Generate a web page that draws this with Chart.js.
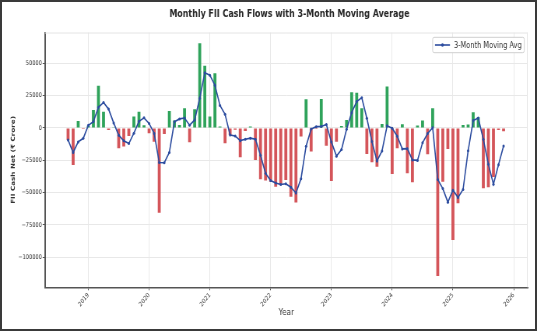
<!DOCTYPE html>
<html>
<head>
<meta charset="utf-8">
<script src="https://cdn.jsdelivr.net/npm/chart.js@4.4.1/dist/chart.umd.min.js"></script>
<style>
html, body { margin: 0; padding: 0; background: #fff; overflow: hidden; }
#wrap { position: relative; width: 537px; height: 331px; overflow: hidden; background: #fff; }
#chart { position: absolute; left: 0; top: 0; transform: scaleX(0.778261); transform-origin: 0 0; }
#frame { position: absolute; left: 0; top: 0; width: 537px; height: 331px; box-sizing: border-box; border: 2px solid #3a3a3a; pointer-events: none; }
</style>
</head>
<body>
<div id="wrap">
  <canvas id="chart" width="690" height="331"></canvas>
  <div id="frame"></div>
</div>
<script>
// monthly FII net cash flow, Sep 2018 - Nov 2025 (Rs crore)
const months = [
  '2018-09', '2018-10', '2018-11', '2018-12',
  '2019-01', '2019-02', '2019-03', '2019-04', '2019-05', '2019-06', '2019-07', '2019-08', '2019-09', '2019-10', '2019-11', '2019-12',
  '2020-01', '2020-02', '2020-03', '2020-04', '2020-05', '2020-06', '2020-07', '2020-08', '2020-09', '2020-10', '2020-11', '2020-12',
  '2021-01', '2021-02', '2021-03', '2021-04', '2021-05', '2021-06', '2021-07', '2021-08', '2021-09', '2021-10', '2021-11', '2021-12',
  '2022-01', '2022-02', '2022-03', '2022-04', '2022-05', '2022-06', '2022-07', '2022-08', '2022-09', '2022-10', '2022-11', '2022-12',
  '2023-01', '2023-02', '2023-03', '2023-04', '2023-05', '2023-06', '2023-07', '2023-08', '2023-09', '2023-10', '2023-11', '2023-12',
  '2024-01', '2024-02', '2024-03', '2024-04', '2024-05', '2024-06', '2024-07', '2024-08', '2024-09', '2024-10', '2024-11', '2024-12',
  '2025-01', '2025-02', '2025-03', '2025-04', '2025-05', '2025-06', '2025-07', '2025-08', '2025-09', '2025-10', '2025-11'
];

const flows = [
  -9300, -28600, 5400, -800,
  1500, 13900, 32700, 12600, -1500, 500, -15700, -14400, -6200, 8800, 12600, 2000,
  -4100, -10600, -65500, -4600, 13100, 5700, 2300, 15200, -11100, 14400, 65500, 48000,
  8800, 42300, 1100, -11900, -5400, -1300, -22700, -2400, 1100, -24700, -39700, -40700,
  -41500, -45400, -44100, -40200, -53100, -57700, -6700, 22200, -18300, -900, 22400, -13700,
  -41000, -10600, 1500, 6200, 27600, 27300, 15200, -20100, -26500, -29900, 3100, 32000,
  -35600, -15700, 2800, -35000, -42000, 1800, 5700, -20400, 15200, -114400, -41500, -16200,
  -86600, -58200, 2300, 2700, 12100, 8200, -46600, -45900, -38000, -1500, -2500
];

const movingAvg = [
  -9300, -19000, -10800, -8000,
  2000, 4900, 16000, 19700, 14600, 3900, -5600, -9900, -12100, -4000, 5100, 7800,
  3500, -4200, -26700, -26900, -19000, 4700, 7000, 7700, 2100, 6200, 22900, 42600,
  40800, 33000, 17400, 10500, -5400, -6200, -9800, -8800, -7900, -8700, -21100, -35000,
  -40600, -42500, -43700, -43200, -45800, -50300, -39200, -14100, -900, 1000, 1100, 2600,
  -10800, -21800, -16700, -1000, 11800, 20400, 23400, 7500, -10500, -25500, -17800, 1700,
  -200, -6400, -16200, -16000, -24700, -25100, -11500, -4300, 200, -39900, -46900, -57400,
  -48100, -53700, -47600, -17700, 5700, 7700, -8800, -28100, -43500, -28500, -14000
];

const yearTicks = [2019, 2020, 2021, 2022, 2023, 2024, 2025, 2026];
const valueTicks = [-100000, -75000, -50000, -25000, 0, 25000, 50000];

const titleText = 'Monthly FII Cash Flows with 3-Month Moving Average';
const legendText = '3-Month Moving Avg';

const green = '#2fa35b';
const red = '#d4555a';
const blue = '#2c4c9f';
const squeeze = 537 / 690;

Chart.defaults.font.family = "'DejaVu Sans', 'Noto Sans', sans-serif";

// month label -> fractional year for the linear x axis
const xs = months.map(m => {
  const p = m.split('-');
  return Number(p[0]) + (Number(p[1]) - 1) / 12;
});

const fmt = v => v < 0 ? '\u2212' + Math.abs(v) : String(v);

const extras = {
  id: 'extras',
  beforeDatasetsDraw(chart) {
    const {ctx, chartArea: a} = chart;
    ctx.save();
    ctx.strokeStyle = '#e4e4e4';
    ctx.lineWidth = 1;
    ctx.beginPath();
    ctx.moveTo(a.left, a.top + 0.5);
    ctx.lineTo(a.right, a.top + 0.5);
    ctx.moveTo(a.right - 0.5, a.top);
    ctx.lineTo(a.right - 0.5, a.bottom);
    ctx.stroke();
    ctx.restore();
  },
  afterDraw(chart) {
    const {ctx, chartArea: a} = chart;
    ctx.save();
    // title
    ctx.fillStyle = '#262626';
    ctx.font = "bold 10.2px 'DejaVu Sans'";
    ctx.textAlign = 'center';
    ctx.textBaseline = 'middle';
    ctx.fillText(titleText, (a.left + a.right) / 2 + 4, 14.5);

    // legend box, upper right inside the plot
    const bw = 91.6 / squeeze, bh = 15.4;
    const bx = a.right - 3.4 / squeeze - bw, by = a.top + 4.8;
    ctx.beginPath();
    ctx.roundRect(bx, by, bw, bh, 2);
    ctx.fillStyle = 'rgba(255,255,255,0.9)';
    ctx.fill();
    ctx.strokeStyle = '#cfcfcf';
    ctx.lineWidth = 1;
    ctx.stroke();
    const ly = by + bh / 2;
    const l0 = bx + 2.3 / squeeze, l1 = bx + 17.3 / squeeze;
    ctx.strokeStyle = blue;
    ctx.lineWidth = 1.6;
    ctx.beginPath();
    ctx.moveTo(l0, ly);
    ctx.lineTo(l1, ly);
    ctx.stroke();
    ctx.fillStyle = blue;
    ctx.beginPath();
    ctx.arc((l0 + l1) / 2, ly, 1.8, 0, Math.PI * 2);
    ctx.fill();
    ctx.fillStyle = '#333';
    ctx.font = "8.5px 'DejaVu Sans'";
    ctx.textAlign = 'left';
    ctx.fillText(legendText, bx + 21.3 / squeeze, ly + 0.5);
    ctx.restore();
  }
};

new Chart(document.getElementById('chart'), {
  type: 'bar',
  data: {
    datasets: [
      {
        type: 'line',
        label: legendText,
        data: movingAvg.map((v, i) => ({x: xs[i], y: v})),
        borderColor: blue,
        backgroundColor: blue,
        borderWidth: 1.6,
        pointRadius: 1.5,
        pointBorderWidth: 0,
        pointBackgroundColor: blue,
        tension: 0,
        order: 0
      },
      {
        type: 'bar',
        label: 'FII Cash Net',
        data: flows.map((v, i) => ({x: xs[i], y: v})),
        backgroundColor: flows.map(v => v >= 0 ? green : red),
        barPercentage: 0.58,
        categoryPercentage: 1,
        order: 1
      }
    ]
  },
  options: {
    responsive: false,
    animation: false,
    devicePixelRatio: 1,
    layout: { padding: { left: 0, right: 12, top: 32.5, bottom: 0 } },
    plugins: {
      legend: { display: false },
      title: { display: false },
      tooltip: { enabled: false }
    },
    scales: {
      x: {
        type: 'linear',
        min: 2018.287,
        max: 2026.23,
        offset: false,
        grid: { color: '#e8e8e8', lineWidth: 1, tickLength: 3, tickColor: '#555', offset: false },
        border: { color: '#555', width: 1.5 },
        ticks: {
          font: { size: 6.5 },
          color: '#333',
          minRotation: 45,
          maxRotation: 45,
          padding: 1,
          callback: v => String(v)
        },
        afterBuildTicks: s => { s.ticks = yearTicks.map(v => ({value: v})); },
        afterFit: s => { s.height = 331 - 287.3; },
        title: { display: true, text: 'Year', color: '#333', font: { size: 9.3 }, padding: { top: 0, bottom: 12.4 } }
      },
      y: {
        min: -123200,
        max: 73800,
        grid: { color: '#e8e8e8', lineWidth: 1, tickLength: 3, tickColor: '#555' },
        border: { color: '#555', width: 2 },
        ticks: {
          font: { size: 6.5 },
          color: '#333',
          padding: 1,
          callback: v => fmt(v)
        },
        afterBuildTicks: s => { s.ticks = valueTicks.map(v => ({value: v})); },
        afterFit: s => { s.width = 57.8; },
        title: { display: true, text: 'FII Cash Net (\u20b9 Crore)', color: '#333', font: { size: 7.2, weight: 'bold' }, padding: { top: 12.4, bottom: 0 } }
      }
    }
  },
  plugins: [extras]
});
</script>
</body>
</html>
